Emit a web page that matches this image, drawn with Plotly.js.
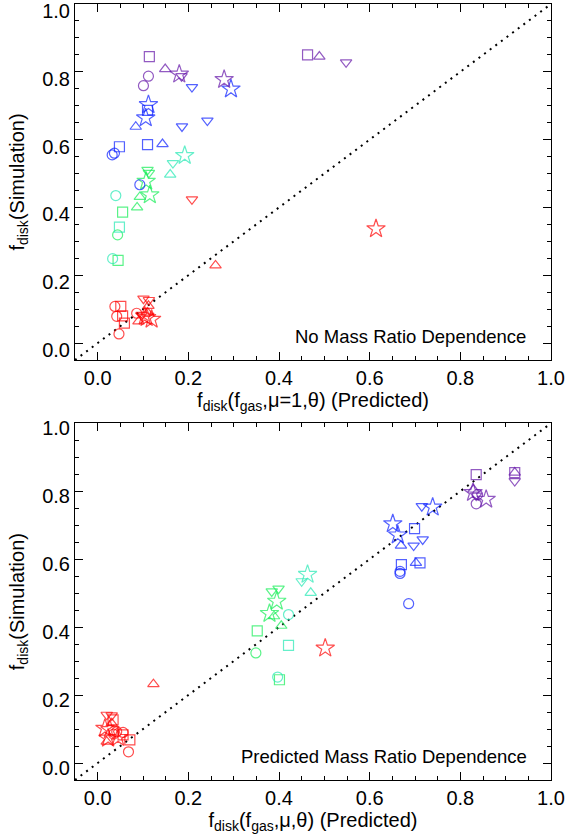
<!DOCTYPE html>
<html><head><meta charset="utf-8">
<script src="https://cdn.plot.ly/plotly-3.0.1.min.js"></script>
<style>html,body{margin:0;padding:0;background:#fff;}#plot{width:567px;height:835px;}</style>
</head><body><div id="plot"></div>
<script>
// ---- Top panel: f_disk(f_gas, mu=1, theta) predicted vs simulation ----
const topRedX = [0.038,0.051,0.042,0.055,0.059,0.047,0.101,0.113,0.086,0.119,0.090,0.104,0.097,0.110,0.108,0.112,0.208,0.260,0.614];
const topRedY = [0.108,0.108,0.079,0.080,0.059,0.027,0.131,0.127,0.088,0.070,0.064,0.079,0.083,0.090,0.075,0.110,0.424,0.229,0.337];
const topRedS = ['o','s','o','s','s','o','v','v','o','*','^','*','v','^','*','^','v','^','*'];
const topGreenX = [0.110,0.113,0.115,0.107,0.093,0.087,0.055,0.044,0.045];
const topGreenY = [0.511,0.502,0.437,0.477,0.431,0.400,0.386,0.319,0.244];
const topGreenS = ['v','v','*','*','^','^','s','o','s'];
const topCyanX = [0.192,0.166,0.160,0.040,0.048,0.033];
const topCyanY = [0.553,0.531,0.497,0.435,0.342,0.249];
const topCyanS = ['*','v','^','o','s','o'];
const topBlueX = [0.294,0.208,0.112,0.110,0.106,0.242,0.186,0.084,0.110,0.143,0.048,0.037,0.032,0.093];
const topBlueY = [0.749,0.755,0.703,0.686,0.664,0.656,0.639,0.638,0.585,0.587,0.579,0.560,0.555,0.467];
const topBlueS = ['*','v','*','s','*','v','v','^','s','^','s','o','o','o'];
const topPurpleX = [0.114,0.149,0.180,0.185,0.112,0.101,0.279,0.463,0.489,0.548];
const topPurpleY = [0.845,0.808,0.793,0.787,0.787,0.759,0.777,0.850,0.845,0.828];
const topPurpleS = ['s','^','*','v','o','o','*','s','^','v'];

// ---- Bottom panel: f_disk(f_gas, mu, theta) predicted vs simulation ----
const botRedX = [0.020,0.031,0.034,0.031,0.016,0.027,0.042,0.056,0.056,0.071,0.068,0.023,0.020,0.035,0.045,0.123,0.502];
const botRedY = [0.142,0.140,0.127,0.117,0.102,0.098,0.092,0.090,0.083,0.068,0.033,0.073,0.063,0.085,0.075,0.232,0.338];
const botRedS = ['v','v','s','^','*','*','o','o','s','s','o','*','^','o','*','^','*'];
const botGreenX = [0.384,0.399,0.395,0.379,0.389,0.405,0.352,0.349,0.401];
const botGreenY = [0.505,0.513,0.476,0.440,0.432,0.404,0.389,0.324,0.245];
const botGreenS = ['v','v','*','*','^','^','s','o','s'];
const botCyanX = [0.463,0.450,0.470,0.421,0.421,0.397];
const botCyanY = [0.555,0.535,0.501,0.437,0.346,0.253];
const botCyanS = ['*','v','^','o','s','o'];
const botBlueX = [0.739,0.715,0.651,0.699,0.662,0.717,0.697,0.669,0.711,0.702,0.670,0.667,0.667,0.686];
const botBlueY = [0.753,0.756,0.704,0.690,0.671,0.658,0.640,0.640,0.589,0.589,0.584,0.564,0.558,0.469];
const botBlueS = ['*','v','*','s','*','v','v','^','s','^','s','o','o','o'];
const botPurpleX = [0.835,0.829,0.828,0.835,0.838,0.835,0.857,0.920,0.920,0.920];
const botPurpleY = [0.849,0.805,0.796,0.787,0.790,0.763,0.776,0.855,0.855,0.830];
const botPurpleS = ['s','^','*','v','o','o','*','s','^','v'];

const tickVals = [0, 0.2, 0.4, 0.6, 0.8, 1.0];
const tickText = ['0.0','0.2','0.4','0.6','0.8','1.0'];
const oneToOne = [-0.05, 1.0];

// ---- styling ----
const colors = {red:'#ff0000', green:'#14ee55', cyan:'#24e8b4', blue:'#0a1eff', purple:'#6414a8'};
const symMap = {'o':'circle-open','s':'square-open','^':'triangle-up-open','v':'triangle-down-open','*':'star-open'};
const sizeMap = {'o':10,'s':10,'^':10,'v':10,'*':14};

function groupTrace(x, y, s, color, xa, ya){
  return {x:x, y:y, xaxis:xa, yaxis:ya, type:'scatter', mode:'markers', hoverinfo:'skip', cliponaxis:false,
    marker:{symbol:s.map(k=>symMap[k]), size:s.map(k=>sizeMap[k]), color:color, line:{color:color, width:1.2}}};
}
function diag(xa, ya){
  return {x:oneToOne, y:oneToOne, xaxis:xa, yaxis:ya, type:'scatter', mode:'lines', hoverinfo:'skip',
    line:{color:'#000', width:2, dash:'2px,5px'}};
}

const data = [
  diag('x','y'),
  groupTrace(topRedX, topRedY, topRedS, colors.red, 'x','y'),
  groupTrace(topGreenX, topGreenY, topGreenS, colors.green, 'x','y'),
  groupTrace(topCyanX, topCyanY, topCyanS, colors.cyan, 'x','y'),
  groupTrace(topBlueX, topBlueY, topBlueS, colors.blue, 'x','y'),
  groupTrace(topPurpleX, topPurpleY, topPurpleS, colors.purple, 'x','y'),
  diag('x2','y2'),
  groupTrace(botRedX, botRedY, botRedS, colors.red, 'x2','y2'),
  groupTrace(botGreenX, botGreenY, botGreenS, colors.green, 'x2','y2'),
  groupTrace(botCyanX, botCyanY, botCyanS, colors.cyan, 'x2','y2'),
  groupTrace(botBlueX, botBlueY, botBlueS, colors.blue, 'x2','y2'),
  groupTrace(botPurpleX, botPurpleY, botPurpleS, colors.purple, 'x2','y2')
];

const fam = 'Liberation Sans, Arial, sans-serif';
const tickFnt = {family:fam, size:20, color:'#000'};
const titleFnt = {family:fam, size:20, color:'#000'};
const noteFnt = {family:fam, size:18.5, color:'#000'};
function ax(extra){
  return Object.assign({range:[-0.05,1.0], tickvals:tickVals, ticktext:tickText, ticks:'inside', ticklen:8, tickwidth:1,
    tickcolor:'#000', minor:{dtick:0.05, tick0:0, ticks:'inside', ticklen:4, tickcolor:'#000', showgrid:false},
    mirror:'ticks', showline:true, linecolor:'#000', linewidth:1, showgrid:false, zeroline:false,
    tickfont:tickFnt, automargin:false, fixedrange:true, ticklabeloverflow:'allow'}, extra);
}

const layout = {
  width:567, height:835, showlegend:false, plot_bgcolor:'#fff', paper_bgcolor:'#fff',
  margin:{l:75, r:16, t:4, b:55},
  font:tickFnt,
  xaxis: ax({domain:[0,1], anchor:'y', title:{text:'f<sub>disk</sub>(f<sub>gas</sub>,μ=1,θ) (Predicted)', font:titleFnt, standoff:2}}),
  yaxis: ax({domain:[0.5412,1], anchor:'x', ticklabelshift:7, title:{text:'f<sub>disk</sub>(Simulation)', font:titleFnt, standoff:12}}),
  xaxis2: ax({domain:[0,1], anchor:'y2', title:{text:'f<sub>disk</sub>(f<sub>gas</sub>,μ,θ) (Predicted)', font:titleFnt, standoff:2}}),
  yaxis2: ax({domain:[0,0.4597], anchor:'x2', ticklabelshift:5, title:{text:'f<sub>disk</sub>(Simulation)', font:titleFnt, standoff:12}}),
  annotations:[
    {xref:'x', yref:'y', x:0.950, y:0.019, xanchor:'right', yanchor:'middle', showarrow:false, text:'No Mass Ratio Dependence', font:noteFnt},
    {xref:'x2', yref:'y2', x:0.951, y:0.018, xanchor:'right', yanchor:'middle', showarrow:false, text:'Predicted Mass Ratio Dependence', font:noteFnt}
  ]
};

Plotly.newPlot('plot', data, layout, {staticPlot:true, displayModeBar:false});
</script></body></html>
